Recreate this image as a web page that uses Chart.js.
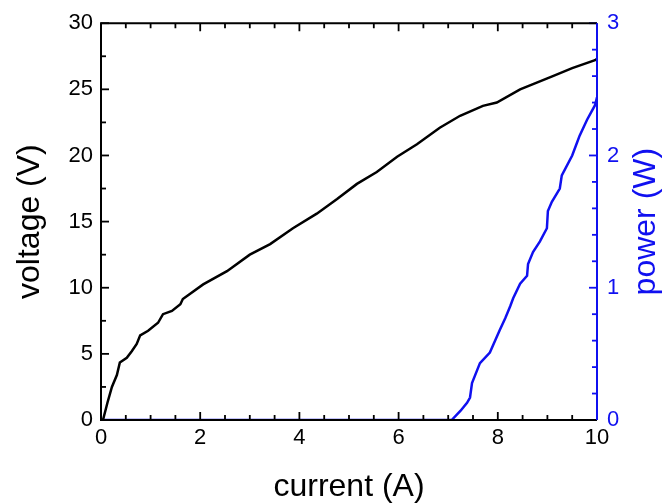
<!DOCTYPE html>
<html>
<head>
<meta charset="utf-8">
<script src="https://cdn.jsdelivr.net/npm/chart.js@4"></script>
<style>
html,body{margin:0;padding:0;background:#fff;}
#wrap{width:662px;height:504px;}
</style>
</head>
<body>
<div id="wrap"><canvas id="c" width="662" height="504"></canvas></div>
<script>
const voltageCurrent = [0.04,0.13,0.22,0.32,0.38,0.52,0.62,0.72,0.79,0.95,1.15,1.25,1.43,1.6,1.65,2.06,2.54,3.0,3.41,3.87,4.35,4.76,5.16,5.56,5.97,6.37,6.83,7.24,7.7,7.98,8.45,9.11,9.5,9.96,10.0];
const voltageValues  = [0,1.3,2.5,3.4,4.35,4.7,5.2,5.75,6.4,6.75,7.35,8.0,8.25,8.75,9.15,10.25,11.25,12.5,13.3,14.5,15.6,16.7,17.85,18.75,19.9,20.85,22.1,23.0,23.75,24.0,25.0,26.0,26.6,27.2,27.3];
const powerCurrent = [0,1,2,3,4,5,6,7.0,7.07,7.25,7.38,7.44,7.48,7.64,7.84,8.04,8.15,8.25,8.31,8.45,8.59,8.61,8.71,8.85,8.99,9.01,9.09,9.25,9.29,9.5,9.6,9.65,9.8,9.96,10.0];
const powerValues  = [0,0,0,0,0,0,0,0,0,0.07,0.13,0.17,0.28,0.43,0.51,0.68,0.77,0.86,0.92,1.03,1.09,1.18,1.27,1.35,1.45,1.58,1.65,1.75,1.85,2.0,2.1,2.15,2.27,2.38,2.44];
const xTickLabels = ['0','2','4','6','8','10'];
const leftTickLabels = ['0','5','10','15','20','25','30'];
const rightTickLabels = ['0','1','2','3'];
const rightTitle = 'power (W)';

const BLUE = '#1010f0';
const FONT = 'Liberation Sans, Arial, sans-serif';

function near(v, step){ return Math.abs(v/step - Math.round(v/step)) < 1e-6; }

const tickPlugin = {
  id: 'innerTicks',
  afterDraw(chart){
    const ctx = chart.ctx;
    const a = chart.chartArea;
    const x = chart.scales.x, yl = chart.scales.y, yr = chart.scales.y2;
    ctx.save();
    ctx.lineCap = 'butt';
    ctx.lineWidth = 1.8;
    ctx.strokeStyle = '#000';
    x.ticks.forEach(t => {
      const px = x.getPixelForValue(t.value);
      const len = near(t.value, 2) ? 8 : 5;
      ctx.beginPath();
      ctx.moveTo(px, a.bottom); ctx.lineTo(px, a.bottom - len);
      ctx.moveTo(px, a.top); ctx.lineTo(px, a.top + len);
      ctx.stroke();
    });
    yl.ticks.forEach(t => {
      const py = yl.getPixelForValue(t.value);
      const len = near(t.value, 5) ? 8 : 5;
      ctx.beginPath();
      ctx.moveTo(a.left, py); ctx.lineTo(a.left + len, py);
      ctx.stroke();
    });
    ctx.strokeStyle = BLUE;
    yr.ticks.forEach(t => {
      const py = yr.getPixelForValue(t.value);
      const len = near(t.value, 1) ? 8 : 5;
      ctx.beginPath();
      ctx.moveTo(a.right, py); ctx.lineTo(a.right - len, py);
      ctx.stroke();
    });
    ctx.lineWidth = 2;
    ctx.strokeStyle = '#000';
    ctx.beginPath();
    ctx.moveTo(a.right, a.top); ctx.lineTo(a.left, a.top); ctx.lineTo(a.left, a.bottom); ctx.lineTo(a.right, a.bottom);
    ctx.stroke();
    ctx.strokeStyle = BLUE;
    ctx.beginPath();
    ctx.moveTo(a.right, a.top); ctx.lineTo(a.right, a.bottom);
    ctx.stroke();
    // right axis title, reading bottom to top
    ctx.fillStyle = BLUE;
    ctx.font = '32px ' + FONT;
    ctx.textAlign = 'center';
    ctx.textBaseline = 'middle';
    ctx.translate(chart.scales.y2.right - 16, (a.top + a.bottom) / 2);
    ctx.rotate(-Math.PI / 2);
    ctx.fillText(rightTitle, 0, 0);
    ctx.restore();
  }
};

new Chart(document.getElementById('c'), {
  type: 'scatter',
  data: {
    datasets: [
      {
        label: 'voltage',
        data: voltageCurrent.map((c,i)=>({x:c, y:voltageValues[i]})),
        showLine: true, borderColor: '#000', borderWidth: 2.5, pointRadius: 0, yAxisID: 'y', tension: 0
      },
      {
        label: 'power',
        data: powerCurrent.map((c,i)=>({x:c, y:powerValues[i]})),
        showLine: true, borderColor: BLUE, borderWidth: 2.5, pointRadius: 0, yAxisID: 'y2', tension: 0
      }
    ]
  },
  options: {
    responsive: false,
    animation: false,
    devicePixelRatio: 1,
    layout: { padding: { top: 20, left: 0, right: 0, bottom: 0 } },
    plugins: { legend: { display: false }, tooltip: { enabled: false } },
    scales: {
      x: {
        type: 'linear', min: 0, max: 10,
        grid: { display: false, drawTicks: false },
        border: { display: false },
        afterFit(s){ s.height = 84; },
        ticks: {
          stepSize: 0.5, autoSkip: false, maxRotation: 0, padding: 5,
          color: '#000', font: { family: FONT, size: 22 },
          callback: v => near(v,2) ? xTickLabels[Math.round(v/2)] : ''
        },
        title: { display: true, text: 'current (A)', color: '#000', font: { family: FONT, size: 32, lineHeight: 1 }, padding: { top: 0, bottom: 1 } }
      },
      y: {
        type: 'linear', position: 'left', min: 0, max: 30,
        grid: { display: false, drawTicks: false },
        border: { display: false },
        afterFit(s){ s.width = 101; },
        ticks: {
          stepSize: 2.5, autoSkip: false, padding: 8,
          color: '#000', font: { family: FONT, size: 22 },
          callback: v => near(v,5) ? leftTickLabels[Math.round(v/5)] : ''
        },
        title: { display: true, text: 'voltage (V)', color: '#000', font: { family: FONT, size: 32, lineHeight: 1 }, padding: { top: 14, bottom: 0 } }
      },
      y2: {
        type: 'linear', position: 'right', min: 0, max: 3,
        grid: { display: false, drawTicks: false },
        border: { display: false },
        afterFit(s){ s.width = 65; },
        ticks: {
          stepSize: 0.2, autoSkip: false, padding: 10,
          color: BLUE, font: { family: FONT, size: 22 },
          callback: v => near(v,1) ? rightTickLabels[Math.round(v)] : ''
        },
        title: { display: false }
      }
    }
  },
  plugins: [tickPlugin]
});
</script>
</body>
</html>
